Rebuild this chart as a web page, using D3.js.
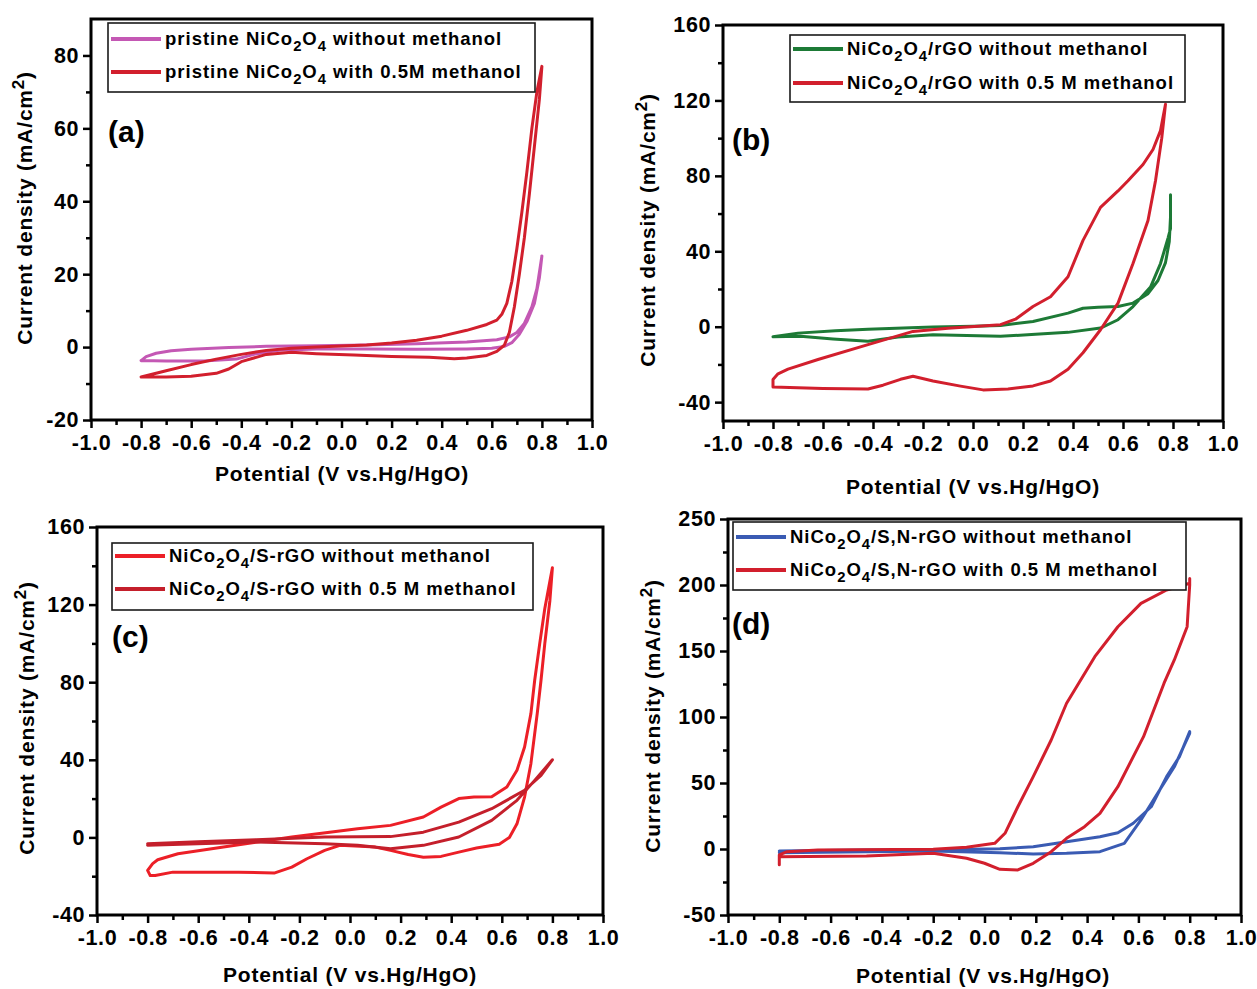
<!DOCTYPE html>
<html lang="en">
<head>
<meta charset="UTF-8">
<title>Cyclic voltammograms of NiCo2O4 catalysts</title>
<script src="https://d3js.org/d3.v7.min.js"></script>
<style>
  body { margin: 0; background: #fff; }
  svg { display: block; font-family: "Liberation Sans", Arial, sans-serif; font-weight: bold; }
  .frame { fill: none; stroke: #000; stroke-width: 3; }
  .axis path { display: none; }
  .axis line { stroke: #000; stroke-width: 2.5; }
  .axis text { font-family: "Liberation Sans", Arial, sans-serif; font-size: 21.5px; font-weight: bold; fill: #000; letter-spacing: 0.6px; }
  .curve { fill: none; stroke-width: 3; stroke-linejoin: round; stroke-linecap: round; }
  .legend-box { fill: #fff; stroke: #1a1a1a; stroke-width: 1.6; }
  .legend text { font-size: 18.5px; fill: #000; letter-spacing: 1px; }
  .title { font-size: 21px; fill: #000; letter-spacing: 0.8px; }
  .tag { font-size: 30px; fill: #000; }
</style>
</head>
<body>
<svg id="fig" width="1257" height="989"></svg>
<script>
// potential (V vs. Hg/HgO), current density (mA/cm2), traced as closed loops

// (a) pristine NiCo2O4
const aWithout = [
  [-0.80,-3.7],[-0.78,-2.6],[-0.74,-1.7],[-0.68,-1.0],[-0.60,-0.6],[-0.45,-0.1],[-0.30,0.2],
  [-0.10,0.4],[0.10,0.6],[0.30,0.9],[0.50,1.4],[0.62,2.0],[0.67,2.8],[0.70,4.0],[0.73,6.5],
  [0.76,11],[0.78,16],[0.80,25],
  [0.79,19],[0.77,12],[0.74,7],[0.71,3.5],[0.68,1.2],[0.65,0.2],[0.60,-0.3],[0.50,-0.5],
  [0.30,-0.6],[0.10,-0.5],[-0.10,-0.5],[-0.25,-0.9],[-0.35,-2.0],[-0.42,-3.3],[-0.55,-3.8],
  [-0.70,-3.8],[-0.80,-3.7]
];
const aWith = [
  [-0.80,-8.2],[-0.70,-6.5],[-0.60,-4.8],[-0.50,-3.3],[-0.40,-2.0],[-0.30,-0.9],[-0.20,-0.3],
  [-0.10,0.0],[0.00,0.3],[0.10,0.6],[0.20,1.1],[0.30,1.9],[0.40,3.0],[0.50,4.6],[0.58,6.2],
  [0.62,7.4],[0.64,9],[0.66,12],[0.68,18],[0.70,27],[0.72,37],[0.74,48],[0.76,60],[0.78,70],
  [0.80,77],
  [0.79,68],[0.77,55],[0.75,42],[0.73,30],[0.71,20],[0.69,11],[0.67,4],[0.65,0.5],[0.62,-1.2],
  [0.58,-2.3],[0.50,-3.0],[0.45,-3.2],[0.35,-2.8],[0.20,-2.6],[0.05,-2.2],[-0.10,-1.8],
  [-0.20,-1.4],[-0.30,-2.0],[-0.40,-4.0],[-0.45,-6.0],[-0.50,-7.2],[-0.60,-8.0],[-0.70,-8.2],
  [-0.80,-8.2]
];

// (b) NiCo2O4/rGO
const bWithout = [
  [-0.80,-5.3],[-0.70,-3.4],[-0.55,-2.2],[-0.42,-1.3],[-0.25,-0.5],[-0.16,-0.2],[0.00,0.2],
  [0.11,0.7],[0.24,2.8],[0.38,7.2],[0.44,9.8],[0.50,10.3],[0.58,10.7],[0.64,12.5],[0.70,17.5],
  [0.74,24.5],[0.77,34],[0.785,45],[0.79,58],[0.79,70],
  [0.79,52],[0.78,47],[0.75,33.5],[0.71,21],[0.64,10.7],[0.58,3.7],[0.51,-0.7],[0.38,-3.0],
  [0.25,-4.0],[0.11,-5.1],[-0.16,-4.2],[-0.30,-5.5],[-0.42,-7.7],[-0.56,-6.5],[-0.69,-5.1],
  [-0.80,-5.3]
];
const bWith = [
  [-0.80,-32],[-0.80,-28],[-0.78,-25],[-0.74,-22.5],[-0.62,-17.4],[-0.42,-9.5],[-0.24,-2.5],
  [-0.10,-0.8],[0.02,0.2],[0.11,1.1],[0.17,4],[0.24,10.7],[0.31,15.9],[0.38,26.5],[0.44,45.8],
  [0.51,63.3],[0.58,72],[0.62,77.4],[0.68,86],[0.72,94],[0.75,104],[0.77,118],
  [0.755,100],[0.73,77.4],[0.70,56.3],[0.64,33.5],[0.58,12.5],[0.51,-1.6],[0.44,-13.8],
  [0.38,-22.6],[0.31,-28.8],[0.24,-31.4],[0.14,-33],[0.04,-33.5],[-0.05,-31.5],[-0.16,-28.8],
  [-0.24,-26.3],[-0.29,-27.9],[-0.36,-31],[-0.42,-33],[-0.60,-32.8],[-0.80,-32]
];

// (c) NiCo2O4/S-rGO
const cWithout = [
  [-0.79,-19.6],[-0.80,-17],[-0.78,-13.5],[-0.76,-11.5],[-0.68,-8.4],[-0.50,-5],[-0.23,0.2],
  [0.03,4.5],[0.16,6.2],[0.29,10.5],[0.36,15.6],[0.43,20],[0.49,20.8],[0.56,21],[0.62,26],
  [0.66,34.6],[0.69,46.6],[0.715,63.8],[0.73,81],[0.75,100],[0.77,118],[0.79,132],[0.80,139],
  [0.79,122],[0.77,100],[0.755,81],[0.74,63.8],[0.715,38],[0.69,20.8],[0.66,7],[0.63,0],
  [0.59,-3.5],[0.50,-5.5],[0.43,-7.6],[0.36,-9.8],[0.29,-10.2],[0.23,-8.8],[0.16,-6.7],
  [0.10,-5],[-0.04,-4.1],[-0.10,-6.7],[-0.17,-11],[-0.23,-15.3],[-0.30,-18.4],[-0.44,-17.9],
  [-0.70,-17.9],[-0.77,-19.6],[-0.79,-19.6]
];
const cWith = [
  [-0.80,-3.3],[-0.60,-2.3],[-0.37,-1.2],[-0.10,0.2],[0.16,0.4],[0.29,2.7],[0.43,7.9],
  [0.56,14.8],[0.69,24.3],[0.755,32],[0.80,40],
  [0.73,29.4],[0.66,19.1],[0.56,8.8],[0.43,0.2],[0.29,-4.1],[0.16,-5.8],[0.03,-4.1],
  [-0.10,-3.3],[-0.37,-2.4],[-0.80,-4]
];

// (d) NiCo2O4/S,N-rGO
const dWithout = [
  [-0.80,-1.5],[-0.46,-0.8],[-0.20,-0.8],[0.06,0.2],[0.19,1.7],[0.32,5.5],[0.45,9.3],
  [0.52,12.3],[0.58,19.5],[0.65,32],[0.71,54.8],[0.76,70],[0.80,89],
  [0.80,87.6],[0.74,62.3],[0.675,42.2],[0.61,22],[0.545,4.3],[0.45,-2],[0.32,-3.3],
  [0.19,-3.8],[0.06,-2.8],[-0.20,-1.5],[-0.80,-2.8]
];
const dWith = [
  [-0.80,-12],[-0.80,-4.5],[-0.77,-2],[-0.65,-0.8],[-0.20,-0.2],[-0.07,1.3],[0.04,4.3],
  [0.08,11.9],[0.13,32],[0.19,54.8],[0.26,82.6],[0.32,110.4],[0.43,145.7],[0.52,168.4],
  [0.61,186.1],[0.71,196.2],[0.80,201.3],[0.80,205],
  [0.80,200],[0.79,168.4],[0.74,143.2],[0.70,125.6],[0.62,85.1],[0.52,47.2],[0.45,27],
  [0.39,16.9],[0.32,8.1],[0.26,-2],[0.19,-10.8],[0.13,-15.9],[0.06,-15.4],[0.00,-10.8],
  [-0.07,-7],[-0.20,-3.3],[-0.46,-5.3],[-0.80,-5.8]
];

// tick values
const xTicks = [-1.0,-0.8,-0.6,-0.4,-0.2,0.0,0.2,0.4,0.6,0.8,1.0];
const xMinor = [-0.9,-0.7,-0.5,-0.3,-0.1,0.1,0.3,0.5,0.7,0.9];
const aYTicks = [-20,0,20,40,60,80];
const aYMinor = [-10,10,30,50,70];
const bYTicks = [-40,0,40,80,120,160];
const bYMinor = [-20,20,60,100,140];
const cYTicks = [-40,0,40,80,120,160];
const cYMinor = [-20,20,60,100,140];
const dYTicks = [-50,0,50,100,150,200,250];
const dYMinor = [-25,25,75,125,175,225];

// legend labels ({n} = subscript)
const aLabels = ["pristine NiCo{2}O{4} without methanol", "pristine NiCo{2}O{4} with 0.5M methanol"];
const bLabels = ["NiCo{2}O{4}/rGO without methanol", "NiCo{2}O{4}/rGO with 0.5 M methanol"];
const cLabels = ["NiCo{2}O{4}/S-rGO without methanol", "NiCo{2}O{4}/S-rGO with 0.5 M methanol"];
const dLabels = ["NiCo{2}O{4}/S,N-rGO without methanol", "NiCo{2}O{4}/S,N-rGO with 0.5 M methanol"];

const panels = [
  { tag: "(a)", series: [aWithout, aWith], colors: ["#c458b4", "#d21f2d"], labels: aLabels,
    yDomain: [-20, 90], yTicks: aYTicks, yMinor: aYMinor,
    box: { x0: 91, x1: 592, y0: 19, y1: 420 },
    legend: { x: 108, y: 23, w: 427, h: 69, r1: 39, r2: 72 },
    tagPos: [108, 142], yTitle: [32, 208], xTitle: [342, 481] },
  { tag: "(b)", series: [bWithout, bWith], colors: ["#1d7a36", "#d21f2d"], labels: bLabels,
    yDomain: [-50, 160], yTicks: bYTicks, yMinor: bYMinor,
    box: { x0: 723, x1: 1223, y0: 25, y1: 421 },
    legend: { x: 790, y: 35, w: 395, h: 67, r1: 49, r2: 83 },
    tagPos: [732, 150], yTitle: [655, 230], xTitle: [973, 494] },
  { tag: "(c)", series: [cWithout, cWith], colors: ["#ec1f27", "#c41f2b"], labels: cLabels,
    yDomain: [-40, 160], yTicks: cYTicks, yMinor: cYMinor,
    box: { x0: 97, x1: 603, y0: 527, y1: 915 },
    legend: { x: 112, y: 543, w: 421, h: 67, r1: 556, r2: 589 },
    tagPos: [112, 647], yTitle: [34, 718], xTitle: [350, 982] },
  { tag: "(d)", series: [dWithout, dWith], colors: ["#3a5bb3", "#d21f2d"], labels: dLabels,
    yDomain: [-50, 250], yTicks: dYTicks, yMinor: dYMinor,
    box: { x0: 728, x1: 1241, y0: 519, y1: 915 },
    legend: { x: 733, y: 522, w: 453, h: 68, r1: 537, r2: 570 },
    tagPos: [732, 634], yTitle: [660, 716], xTitle: [983, 983] }
];

const svg = d3.select("#fig");

// writes "NiCo{2}O{4}" style text with subscripts (or superscripts with {^n})
function richText(sel, str, baseSize) {
  const parts = str.split(/(\{\^?\d\})/).filter(s => s.length);
  let shift = 0;
  parts.forEach(p => {
    const m = p.match(/^\{(\^?)(\d)\}$/);
    if (m) {
      const up = m[1] === "^";
      const d = up ? -baseSize * 0.4 : baseSize * 0.3;
      sel.append("tspan").attr("dy", d - shift).attr("font-size", baseSize * 0.8).text(m[2]);
      shift = d;
    } else {
      sel.append("tspan").attr("dy", -shift).text(p);
      shift = 0;
    }
  });
}

panels.forEach(p => {
  const b = p.box;
  const x = d3.scaleLinear().domain([-1, 1]).range([b.x0, b.x1]);
  const y = d3.scaleLinear().domain(p.yDomain).range([b.y1, b.y0]);
  const g = svg.append("g");

  // curves
  const line = d3.line().x(d => x(d[0])).y(d => y(d[1]));
  p.series.forEach((s, i) => {
    g.append("path").datum(s).attr("class", "curve")
      .attr("stroke", p.colors[i]).attr("d", line);
  });

  // legend
  const lg = g.append("g").attr("class", "legend");
  lg.append("rect").attr("class", "legend-box")
    .attr("x", p.legend.x).attr("y", p.legend.y)
    .attr("width", p.legend.w).attr("height", p.legend.h);
  [p.legend.r1, p.legend.r2].forEach((ry, i) => {
    lg.append("line").attr("x1", p.legend.x + 3).attr("x2", p.legend.x + 53)
      .attr("y1", ry).attr("y2", ry)
      .attr("stroke", p.colors[i]).attr("stroke-width", 4);
    const t = lg.append("text").attr("x", p.legend.x + 57).attr("y", ry + 6);
    richText(t, p.labels[i], 18.5);
  });

  // axes
  g.append("g").attr("class", "axis").attr("transform", `translate(0,${b.y1})`)
    .call(d3.axisBottom(x).tickValues(xTicks).tickSize(8).tickSizeOuter(0)
      .tickPadding(7).tickFormat(d => d.toFixed(1)));
  g.append("g").attr("class", "axis").attr("transform", `translate(0,${b.y1})`)
    .call(d3.axisBottom(x).tickValues(xMinor).tickSize(5).tickSizeOuter(0).tickFormat(""));
  g.append("g").attr("class", "axis").attr("transform", `translate(${b.x0},0)`)
    .call(d3.axisLeft(y).tickValues(p.yTicks).tickSize(8).tickSizeOuter(0)
      .tickPadding(4).tickFormat(d => String(d)));
  g.append("g").attr("class", "axis").attr("transform", `translate(${b.x0},0)`)
    .call(d3.axisLeft(y).tickValues(p.yMinor).tickSize(5).tickSizeOuter(0).tickFormat(""));

  g.append("rect").attr("class", "frame")
    .attr("x", b.x0).attr("y", b.y0).attr("width", b.x1 - b.x0).attr("height", b.y1 - b.y0);

  // titles
  g.append("text").attr("class", "title").attr("text-anchor", "middle")
    .attr("x", p.xTitle[0]).attr("y", p.xTitle[1]).text("Potential (V vs.Hg/HgO)");
  const yt = g.append("text").attr("class", "title").attr("text-anchor", "middle")
    .attr("transform", `translate(${p.yTitle[0]},${p.yTitle[1]}) rotate(-90)`);
  richText(yt, "Current density (mA/cm{^2})", 21);

  g.append("text").attr("class", "tag").attr("x", p.tagPos[0]).attr("y", p.tagPos[1]).text(p.tag);
});
</script>
</body>
</html>
